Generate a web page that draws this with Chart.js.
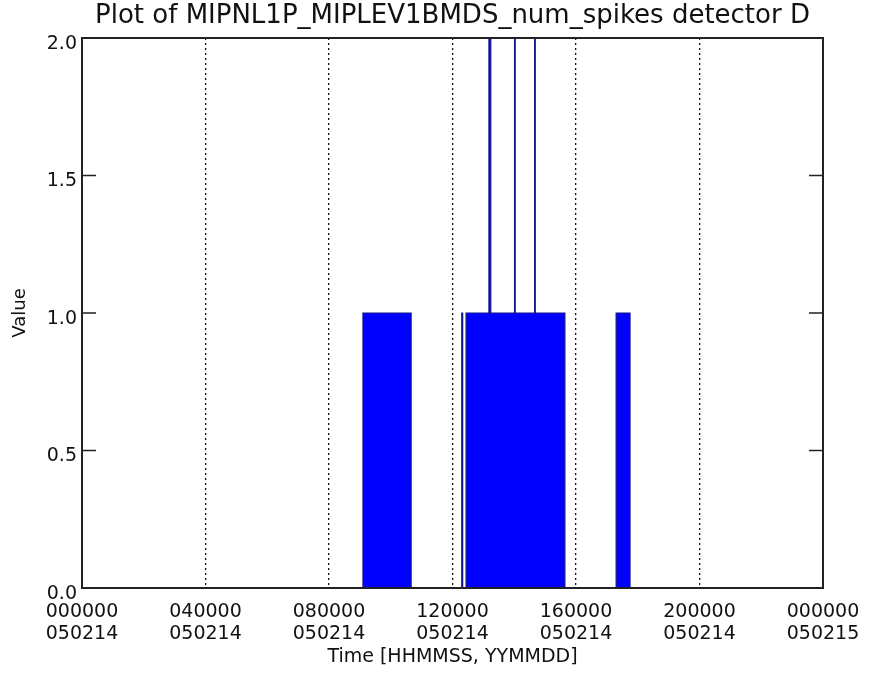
<!DOCTYPE html>
<html>
<head>
<meta charset="utf-8">
<script src="https://cdn.jsdelivr.net/npm/chart.js@4.4.1/dist/chart.umd.min.js"></script>
<style>
html,body{margin:0;padding:0;background:#fff;}
#wrap{width:873px;height:685px;}
</style>
</head>
<body>
<div id="wrap"><canvas id="c" width="873" height="685"></canvas></div>
<script>
// ---- data ----
const titleText = 'Plot of MIPNL1P_MIPLEV1BMDS_num_spikes detector D';
const xTitleText = 'Time [HHMMSS, YYMMDD]';
const yTitleText = 'Value';

// step series: value holds from stepTimes[i] (hours since 000000 050214) until the next time
const stepTimes  = [0, 9.10, 10.66, 12.30, 12.33, 12.44, 13.18, 13.24, 14.01, 14.03, 14.66, 14.68, 15.64, 17.30, 17.75, 24];
const stepValues = [0, 1,    0,     1,     0,     1,     2,     1,     2,     1,     2,     1,     0,     1,     0,     0];

const xTickHours = [0, 4, 8, 12, 16, 20, 24];
const xTickTime  = ['000000', '040000', '080000', '120000', '160000', '200000', '000000'];
const xTickDate  = ['050214', '050214', '050214', '050214', '050214', '050214', '050215'];

const yTickValues = [0, 0.5, 1.0, 1.5, 2.0];
const yTickLabels = ['0.0', '0.5', '1.0', '1.5', '2.0'];
const yInnerTicks = [0.5, 1.0, 1.5];

// ---- chart ----
const FONT = "'DejaVu Sans', 'Liberation Sans', sans-serif";
const points = stepTimes.map((t, i) => ({x: t, y: stepValues[i]}));

const framePlugin = {
  id: 'frame',
  afterDatasetsDraw(chart) {
    const {ctx, chartArea: a, scales} = chart;
    ctx.save();
    ctx.strokeStyle = '#222';
    ctx.lineWidth = 2;
    ctx.strokeRect(a.left, a.top, a.right - a.left, a.bottom - a.top);
    ctx.lineWidth = 1.5;
    ctx.beginPath();
    yInnerTicks.forEach(v => {
      const py = scales.y.getPixelForValue(v);
      ctx.moveTo(a.left, py); ctx.lineTo(a.left + 14, py);
      ctx.moveTo(a.right, py); ctx.lineTo(a.right - 14, py);
    });
    ctx.stroke();
    ctx.restore();
  }
};

new Chart(document.getElementById('c'), {
  type: 'line',
  data: {
    datasets: [{
      data: points,
      stepped: true,
      fill: 'origin',
      backgroundColor: '#0000ff',
      borderColor: '#14148a',
      borderWidth: 1.2,
      pointRadius: 0,
      pointHoverRadius: 0
    }]
  },
  options: {
    responsive: false,
    devicePixelRatio: 1,
    animation: false,
    events: [],
    layout: {padding: {left: 0, right: 50, top: 0, bottom: 0}},
    plugins: {
      legend: {display: false},
      tooltip: {enabled: false},
      title: {
        display: true,
        text: titleText,
        fullSize: false,
        color: '#111',
        font: {family: FONT, size: 26, weight: 'normal', lineHeight: 1.2},
        padding: {top: 1, bottom: 5.8}
      }
    },
    scales: {
      x: {
        type: 'linear',
        min: 0, max: 24,
        afterBuildTicks: s => { s.ticks = xTickHours.map(v => ({value: v})); },
        afterFit: s => { s.height = 97; },
        ticks: {
          autoSkip: false, maxRotation: 0, minRotation: 0,
          padding: 13,
          color: '#111',
          font: {family: FONT, size: 19, lineHeight: 1.16},
          callback: v => { const i = xTickHours.indexOf(v); return [xTickTime[i], xTickDate[i]]; }
        },
        grid: {
          drawTicks: false,
          drawOnChartArea: true,
          lineWidth: 1.3,
          color: c => (c.index === 0 || c.index === xTickHours.length - 1) ? 'rgba(0,0,0,0)' : '#111'
        },
        border: {display: false, dash: [2, 3]},
        title: {
          display: true, text: xTitleText, color: '#111',
          font: {family: FONT, size: 19, lineHeight: 1.2},
          padding: {top: 0, bottom: 16.6}
        }
      },
      y: {
        type: 'linear',
        min: 0, max: 2,
        afterBuildTicks: s => { s.ticks = yTickValues.map(v => ({value: v})); },
        afterFit: s => { s.width = 82; },
        ticks: {
          padding: 5,
          labelOffset: 6,
          color: '#111',
          font: {family: FONT, size: 19},
          callback: v => yTickLabels[yTickValues.indexOf(v)]
        },
        grid: {display: false, drawTicks: false},
        border: {display: false},
        title: {
          display: true, text: yTitleText, color: '#111',
          font: {family: FONT, size: 18, lineHeight: 1.2},
          padding: {top: 10, bottom: 0}
        }
      }
    }
  },
  plugins: [framePlugin]
});
</script>
</body>
</html>
